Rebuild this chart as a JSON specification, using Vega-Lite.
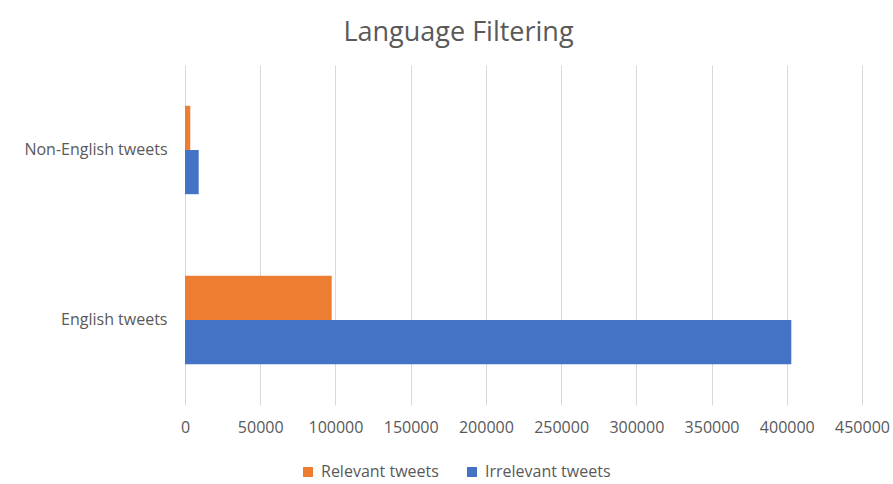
{
  "$schema": "https://vega.github.io/schema/vega-lite/v6.json",
  "autosize": "none",
  "width": 677,
  "height": 340,
  "padding": {"left": 185, "top": 65, "right": 31, "bottom": 79},
  "background": "white",
  "title": {
    "text": "Language Filtering",
    "font": "Open Sans",
    "fontSize": 27,
    "fontWeight": "normal",
    "color": "#595959",
    "anchor": "middle",
    "dx": -65,
    "offset": 18
  },
  "data": {
    "values": [
      {"group": "Non-English tweets", "series": "Relevant tweets", "tweets": 3500},
      {"group": "Non-English tweets", "series": "Irrelevant tweets", "tweets": 9100},
      {"group": "English tweets", "series": "Relevant tweets", "tweets": 97500},
      {"group": "English tweets", "series": "Irrelevant tweets", "tweets": 403000}
    ]
  },
  "mark": {"type": "bar", "stroke": null},
  "encoding": {
    "y": {
      "field": "group",
      "type": "nominal",
      "sort": ["Non-English tweets", "English tweets"],
      "scale": {"paddingInner": 0.48, "paddingOuter": 0.24},
      "axis": {
        "title": null,
        "ticks": false,
        "domain": false,
        "grid": false,
        "labelPadding": 18,
        "labelFont": "Open Sans",
        "labelFontSize": 16,
        "labelColor": "#595959",
        "labelLimit": 200
      }
    },
    "yOffset": {
      "field": "series",
      "type": "nominal",
      "sort": ["Relevant tweets", "Irrelevant tweets"]
    },
    "x": {
      "field": "tweets",
      "type": "quantitative",
      "scale": {"domain": [0, 450000], "nice": false},
      "axis": {
        "title": null,
        "values": [0, 50000, 100000, 150000, 200000, 250000, 300000, 350000, 400000, 450000],
        "format": "d",
        "ticks": false,
        "domain": false,
        "grid": true,
        "gridColor": "#d9d9d9",
        "gridWidth": 1,
        "labelPadding": 14,
        "labelFont": "Open Sans",
        "labelFontSize": 16,
        "labelColor": "#595959",
        "labelFlush": false
      }
    },
    "color": {
      "field": "series",
      "type": "nominal",
      "sort": ["Relevant tweets", "Irrelevant tweets"],
      "scale": {"domain": ["Relevant tweets", "Irrelevant tweets"], "range": ["#ED7D31", "#4472C4"]},
      "legend": {
        "title": null,
        "orient": "none",
        "direction": "horizontal",
        "legendX": 115,
        "legendY": 399,
        "symbolType": "square",
        "symbolSize": 100,
        "symbolStrokeWidth": 0,
        "labelFont": "Open Sans",
        "labelFontSize": 16,
        "labelColor": "#595959",
        "labelOffset": 5,
        "columnPadding": 25,
        "labelLimit": 200
      }
    }
  },
  "config": {
    "view": {"stroke": null}
  }
}
